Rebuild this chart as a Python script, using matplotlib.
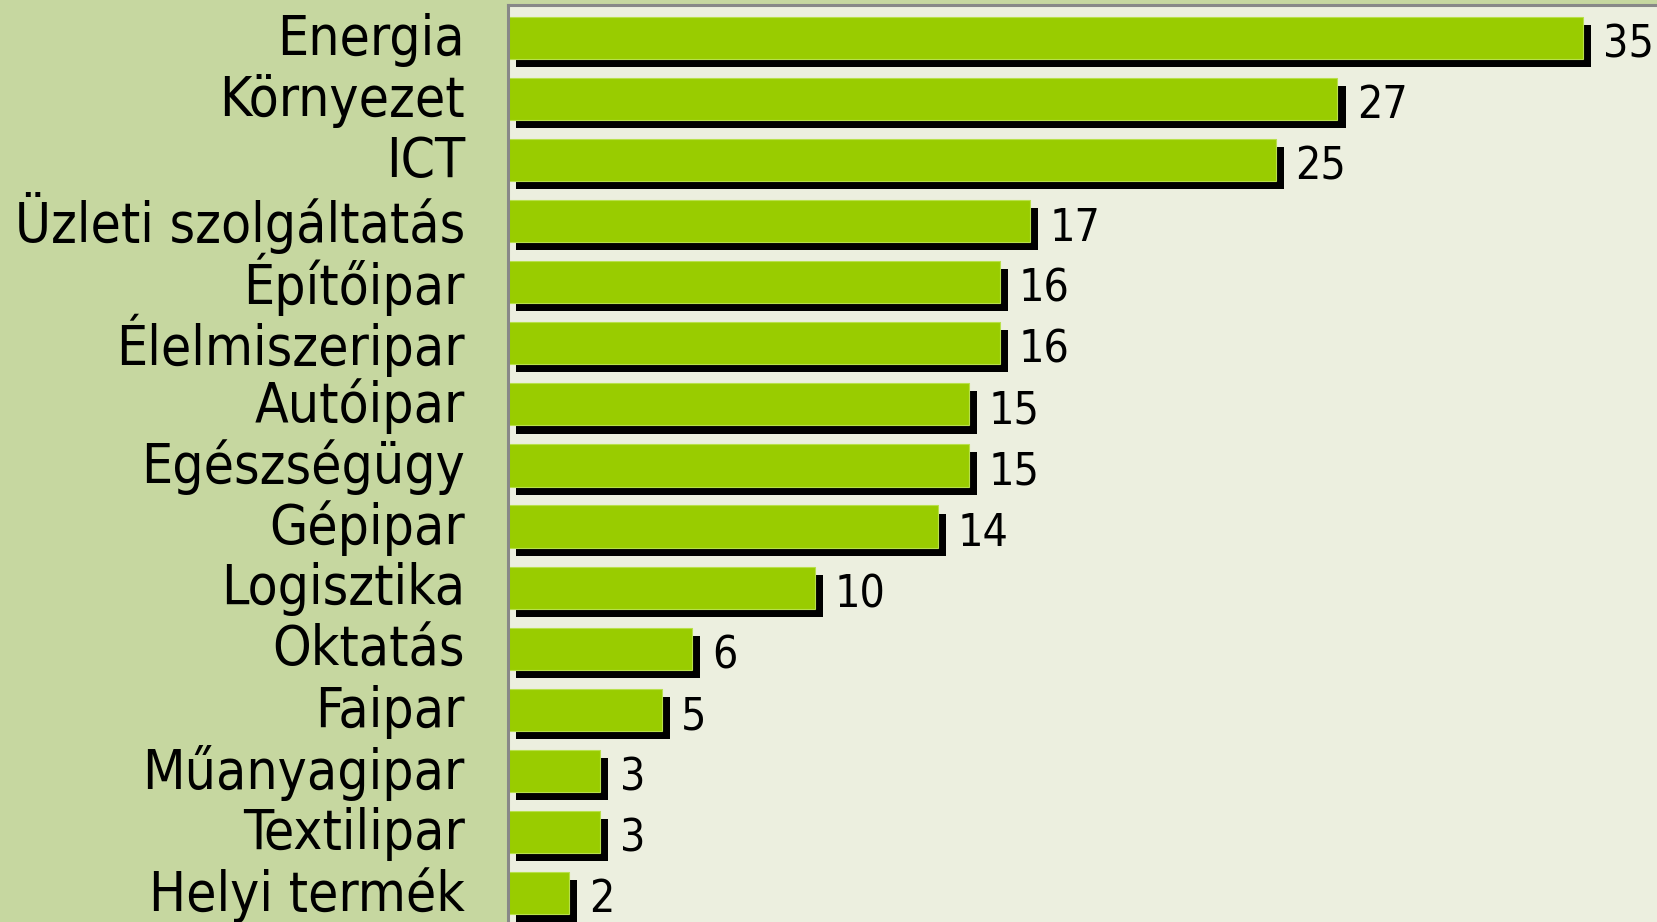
import matplotlib
matplotlib.use("Agg")
import matplotlib.pyplot as plt
import matplotlib.patheffects as pe
import matplotlib.transforms as mtransforms
from matplotlib import font_manager

# adatok
categories = ["Energia", "Környezet", "ICT", "Üzleti szolgáltatás", "Építőipar",
              "Élelmiszeripar", "Autóipar", "Egészségügy", "Gépipar", "Logisztika",
              "Oktatás", "Faipar", "Műanyagipar", "Textilipar", "Helyi termék"]
values = [35, 27, 25, 17, 16, 16, 15, 15, 14, 10, 6, 5, 3, 3, 2]

FIG_BG = "#c6d7a0"
AX_BG = "#ecefdf"
BAR = "#99cc00"

# DejaVu Sans Condensed ha van, az áll legközelebb a Tahomához
has_cond = any("Condensed" in f.fname and "DejaVuSans" in f.fname
               for f in font_manager.fontManager.ttflist)
stretch = "condensed" if has_cond else "normal"
plt.rcParams['font.family'] = ['DejaVu Sans']

fig = plt.figure(figsize=(16.57, 9.22), dpi=100, facecolor=FIG_BG)
ax = fig.add_axes([508 / 1657, 0.0, 1 - 508 / 1657, 1 - 5 / 922])
ax.set_facecolor(AX_BG)

y = list(range(len(categories)))
bars = ax.barh(y, values, height=0.69, color=BAR, edgecolor="#b8e04a", linewidth=0.8)
for b in bars:
    b.set_path_effects([pe.SimplePatchShadow(offset=(5.8, -5.8), shadow_rgbFace="black", alpha=1.0),
                        pe.Normal()])

for yi, v in zip(y, values):
    ax.annotate(str(v), (v, yi), xytext=(14, -5), textcoords="offset points",
                va="center", ha="left", fontsize=32, fontstretch=stretch)

ax.set_xlim(0, 37.4)
ax.set_ylim(14.475, -0.54)
ax.set_xticks([])
ax.set_yticks(y)
ax.set_yticklabels(categories, fontsize=39.5, fontstretch=stretch)
ax.tick_params(axis="y", length=0, pad=31)
shift = mtransforms.ScaledTranslation(0, 3 / 72, fig.dpi_scale_trans)
for lab in ax.get_yticklabels():
    lab.set_transform(lab.get_transform() + shift)

for s in ["right", "bottom"]:
    ax.spines[s].set_visible(False)
for s in ["left", "top"]:
    ax.spines[s].set_color("#888888")
    ax.spines[s].set_linewidth(2.2)

fig.savefig("out.png", dpi=100, facecolor=FIG_BG)
